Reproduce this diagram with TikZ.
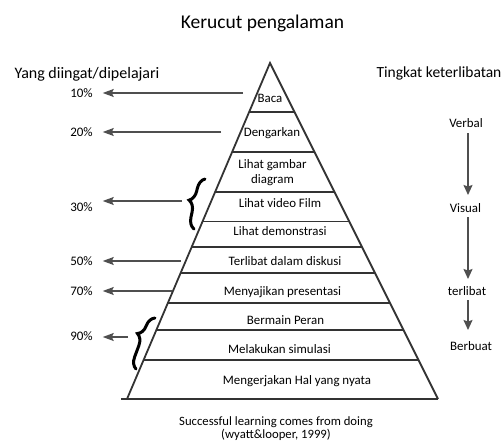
\documentclass[tikz,border=0pt]{standalone}
\usepackage{fontspec}
\setmainfont{Carlito}
\usetikzlibrary{arrows.meta,decorations.pathreplacing,calc}
\definecolor{pyr}{HTML}{333333}
\definecolor{arrgray}{HTML}{4F4F4F}
\begin{document}
\begin{tikzpicture}[x=1pt,y=-1pt,
  lab/.style={inner sep=0pt, text height=8.5pt, text depth=0.5pt, font=\fontsize{12.9}{15}\selectfont},
  pct/.style={inner sep=0pt, outer sep=10pt, text height=8.5pt, text depth=0.5pt, font=\fontsize{13}{15}\selectfont},
  head/.style={inner sep=0pt, font=\fontsize{16}{18}\selectfont},
  arr/.style={draw=arrgray, line width=1.5pt, -{Stealth[length=11pt,width=8pt,inset=2pt]}},
  varr/.style={draw=arrgray, line width=1.5pt, -{Stealth[length=10pt,width=9pt,inset=1.5pt]}},
  pline/.style={draw=pyr, line width=1.8pt},
  bracestyle/.style={draw=black, line width=3pt, line cap=round, decorate},
]
\useasboundingbox (0,0) rectangle (503,444);

% title and headers
\node[inner sep=0pt, font=\fontsize{19.5}{22}\selectfont] (title) at (262.5,23) {Kerucut pengalaman};
\node[head] (lefthead) at (87,74) {Yang diingat/dipelajari};
\node[inner sep=0pt, font=\fontsize{15.5}{18}\selectfont] (righthead) at (439,73) {Tingkat keterlibatan};

% pyramid
\coordinate (A) at (270,63);
\coordinate (BL) at (127,399);
\coordinate (BR) at (438,399);
\coordinate (B0) at (121,399);
\draw[pline, line join=miter] (BL) -- (A) -- (BR);
\draw[pline] (B0) -- (BR);
\foreach \yy in {112,152,192,221.5,247,273,303,330,360}{
  \pgfmathsetmacro{\t}{(\yy-63)/336}
  \draw[pline] ($(A)!\t!(BL)$) -- ($(A)!\t!(BR)$);
}

% pyramid labels
\node[lab] (baca) at (270,98) {Baca};
\node[lab] (dengar) at (272,132) {Dengarkan};
\node[inner sep=0pt, align=center, font=\fontsize{12.9}{15}\selectfont] (gambar) at (272.5,172.5) {Lihat gambar\\diagram};
\node[lab] (video) at (280,203) {Lihat video Film};
\node[lab] (demo) at (280,231) {Lihat demonstrasi};
\node[lab] (diskusi) at (285,261) {Terlibat dalam diskusi};
\node[lab] (presentasi) at (282.5,291) {Menyajikan presentasi};
\node[lab] (peran) at (285.5,320) {Bermain Peran};
\node[lab] (simulasi) at (279.5,349) {Melakukan simulasi};
\node[lab] (nyata) at (297,380) {Mengerjakan Hal yang nyata};

% percentages
\node[pct] (p10) at (81.5,93) {10\%};
\node[pct] (p20) at (81.5,132) {20\%};
\node[pct] (p30) at (81.5,207) {30\%};
\node[pct] (p50) at (81.5,261) {50\%};
\node[pct] (p70) at (81.5,291) {70\%};
\node[pct] (p90) at (81.5,336) {90\%};

\coordinate (a10) at (243,93);
\coordinate (a20) at (221,132);
\coordinate (a30) at (182,201);
\coordinate (a50) at (181,261);
\coordinate (a70) at (172,291);
\coordinate (a90) at (128,337);
\foreach \k in {10,20,30,50,70,90}{
  \draw[arr] (a\k) -- (a\k -| p\k.east);
}

% braces
\draw[bracestyle, decoration={brace, amplitude=11pt, aspect=0.53}] (194,229) -- (205,179);
\draw[bracestyle, decoration={brace, amplitude=11pt, aspect=0.62}] (136,369) -- (155,318);

% right column
\node[lab] (verbal) at (466,123) {Verbal};
\node[lab] (visual) at (465.5,208) {Visual};
\node[lab] (terlibat) at (467,291) {terlibat};
\node[lab] (berbuat) at (471,346) {Berbuat};
\coordinate (ax) at (468,0);
\draw[varr, shorten <=10pt, shorten >=13pt] (verbal -| ax) -- (visual -| ax);
\draw[varr, shorten <=9pt, shorten >=12pt] (visual -| ax) -- (terlibat -| ax);
\draw[varr, shorten <=9pt, shorten >=16pt] (terlibat -| ax) -- (berbuat -| ax);

% caption
\node[inner sep=0pt, align=center, font=\fontsize{12.7}{13}\selectfont] (caption) at (276,429) {Successful learning comes from doing\\(wyatt\&looper, 1999)};
\end{tikzpicture}
\end{document}
